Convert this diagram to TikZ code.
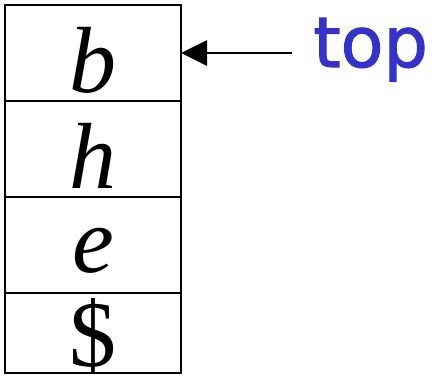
\documentclass[tikz,border=0pt]{standalone}
\usepackage{fontspec}
\setmainfont{Liberation Serif}
\newfontface\labelfont[FakeBold=1.6]{DejaVu Sans}
\usepackage{xcolor}
\usepackage{tikz}
\usetikzlibrary{positioning,arrows.meta}
\definecolor{topBlue}{HTML}{3333CC}
\tikzset{
  cell/.style={draw=black,line width=2.8pt,rectangle,inner sep=0pt,outer sep=0pt,
    minimum width=176pt},
  symbol/.style={inner sep=0pt,font=\fontsize{94}{94}\selectfont},
  pointer/.style={-{Triangle[length=26pt,width=25pt]},line width=2.8pt,draw=black},
  toplabel/.style={inner sep=0pt,text=topBlue,font=\labelfont\fontsize{70}{70}\selectfont}
}

\begin{document}
\begin{tikzpicture}[x=1pt,y=-1pt]
  \useasboundingbox (0,0) rectangle (444,375);
  \foreach \name/\top/\ht/\base/\sym in {b/5/96/92/{\itshape b},h/101/96/188/{\itshape h},
      e/197/96/272/{\itshape e},dollar/293/80/366/{\$}} {
    \node[cell, minimum height=\ht pt, anchor=north west] (cell\name) at (5,\top) {};
    \node[symbol, anchor=base] (sym\name) at (93,\base) {\sym};
  }

  \node[toplabel, anchor=base west] (top) at (313,67) {top};
  \coordinate (tail) at (292,53);
  \draw[pointer] (tail) -- (cellb.east);
\end{tikzpicture}
\end{document}
